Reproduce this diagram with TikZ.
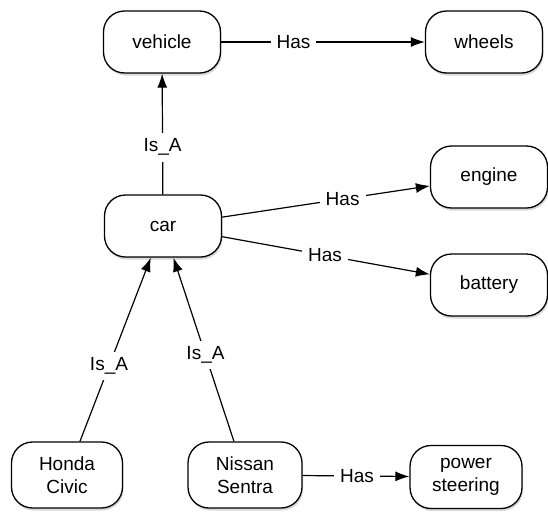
\documentclass[tikz,border=0pt]{standalone}
\usepackage{fontspec}
\setmainfont{Liberation Sans}
\usetikzlibrary{arrows.meta,shadows}
\begin{document}
\begin{tikzpicture}[x=1pt,y=-1pt,
  concept/.style={draw=black, line width=1.3pt, rounded corners=21pt, fill=white, align=center,
    inner sep=0pt, minimum height=62pt, minimum width=117pt,
    font=\fontsize{19}{23}\selectfont,
    drop shadow={opacity=0.3, shadow xshift=1pt, shadow yshift=-2.5pt}},
  link/.style={draw=black, line width=1.2pt, -{Latex[length=14pt,width=10pt]}},
  lab/.style={fill=white, inner sep=6pt, font=\fontsize{19}{22}\selectfont}]
\useasboundingbox (0,0) rectangle (548,512);
\node[concept] (vehicle) at (162,42) {vehicle};
\node[concept] (wheels) at (484,42) {wheels};
\node[concept] (car) at (163,226) {car};
\node[concept] (engine) at (489,177) {engine};
\node[concept] (battery) at (489,285) {battery};
\node[concept, minimum width=111pt, minimum height=66pt] (honda) at (67,475) {Honda\\Civic};
\node[concept, minimum width=114pt, minimum height=66pt] (nissan) at (245,475) {Nissan\\Sentra};
\node[concept, minimum width=112pt, minimum height=63pt] (ps) at (466,477) {power\\steering};

\draw[link] (vehicle) -- node[lab, pos=0.355] {Has} (wheels);
\draw[link] (car) -- node[lab, pos=0.39] {Is\_A} (vehicle);
\draw[link] (car) -- node[lab, pos=0.58] {Has} (engine);
\draw[link] (car) -- node[lab, pos=0.495] {Has} (battery);
\draw[link] (honda) -- node[lab, pos=0.41] {Is\_A} (car);
\draw[link] (nissan) -- node[lab, pos=0.47] {Is\_A} (car);
\draw[link] (nissan) -- node[lab, pos=0.51] {Has} (ps);
\end{tikzpicture}
\end{document}
